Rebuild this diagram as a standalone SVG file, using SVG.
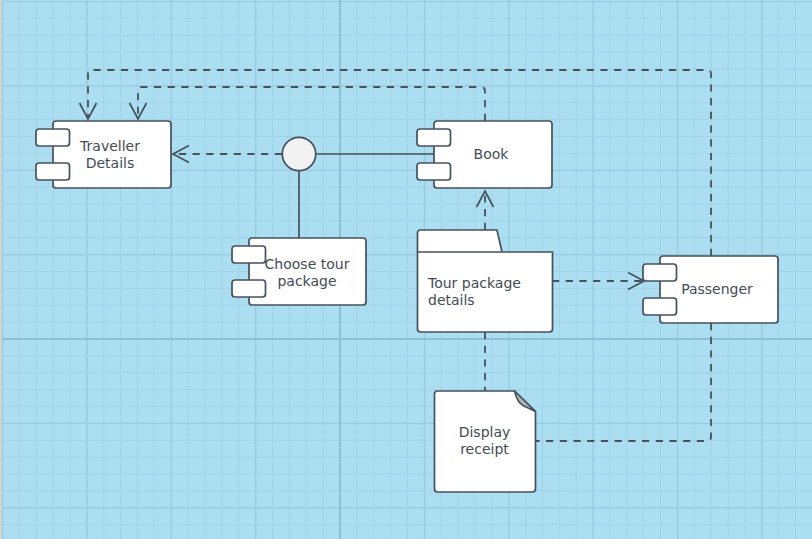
<svg xmlns="http://www.w3.org/2000/svg" width="812" height="539" viewBox="0 0 812 539">
<style>
.box{fill:#ffffff;stroke:#45515c;stroke-width:1.7}
.port{fill:#ffffff;stroke:#45515c;stroke-width:1.7}
.lbl{font-family:"DejaVu Sans",sans-serif;font-size:14px;fill:#3f4b56}
.c{text-anchor:middle}
.dash{fill:none;stroke:#45515c;stroke-width:1.8;stroke-dasharray:7.2 6.5}
.solid{fill:none;stroke:#45515c;stroke-width:1.7}
</style>
<defs>
<pattern id="minor" x="2" y="1" width="16.875" height="16.875" patternUnits="userSpaceOnUse">
<rect x="0" y="0" width="1" height="16.875" fill="#a0d3e9"/>
<rect x="0" y="0" width="16.875" height="1" fill="#a0d3e9"/>
</pattern>
<pattern id="medium" x="2" y="1" width="84.375" height="84.375" patternUnits="userSpaceOnUse">
<rect x="0" y="0" width="1.2" height="84.375" fill="#98cadf"/>
<rect x="0" y="0" width="84.375" height="1.2" fill="#98cadf"/>
</pattern>
<marker id="open" viewBox="0 0 20 20" refX="17" refY="10" markerWidth="20" markerHeight="20" markerUnits="userSpaceOnUse" orient="auto">
<path d="M1,1.5 L17,10 L1,18.5" fill="none" stroke="#45515c" stroke-width="1.7" stroke-dasharray="none"/>
</marker>
</defs>
<g id="background">
<rect x="0" y="0" width="812" height="539" fill="#acdef2"/>
<rect x="0" y="0" width="812" height="539" fill="url(#minor)"/>
<rect x="0" y="0" width="812" height="539" fill="url(#medium)"/>
<rect x="339" y="0" width="2" height="539" fill="#8fc0d6"/>
<rect x="0" y="338" width="812" height="2" fill="#8fc0d6"/>
<rect x="0" y="0" width="2" height="539" fill="#d3d3d3"/>
</g>
<g id="connectors">
<path class="dash" d="M282,154 L173,154" marker-end="url(#open)"/>
<path class="solid" d="M316,154 L434,154"/>
<path class="solid" d="M299,171 L299,238"/>
<path class="dash" d="M485,121 V91 Q485,87 481,87 H142 Q138,87 138,91 V119" marker-end="url(#open)"/>
<path class="dash" d="M711,256 V74 Q711,70 707,70 H92 Q88,70 88,74 V119" marker-end="url(#open)"/>
<path class="dash" d="M485,230 V191" marker-end="url(#open)"/>
<path class="dash" d="M552,281 H644" marker-end="url(#open)"/>
<path class="dash" d="M711,323 V437 Q711,441 707,441 H536"/>
<path class="dash" d="M485,332 V391"/>
</g>
<g id="interface">
<circle cx="299" cy="154" r="16.7" fill="#f2f2f2" stroke="#45515c" stroke-width="1.7"/>
</g>
<g id="traveller-details">
<rect class="box" x="53" y="121" width="118" height="67" rx="3"/>
<rect class="port" x="36" y="129" width="33.5" height="17" rx="3"/>
<rect class="port" x="36" y="163" width="33.5" height="17" rx="3"/>
<text class="lbl c" x="110" y="150.5">Traveller</text>
<text class="lbl c" x="110" y="167.5">Details</text>
</g>
<g id="choose-tour-package">
<rect class="box" x="249" y="238" width="117" height="67" rx="3"/>
<rect class="port" x="232" y="246" width="33.5" height="17" rx="3"/>
<rect class="port" x="232" y="280" width="33.5" height="17" rx="3"/>
<text class="lbl c" x="307" y="268.5">Choose tour</text>
<text class="lbl c" x="307" y="285.5">package</text>
</g>
<g id="book">
<rect class="box" x="434" y="121" width="118" height="67" rx="3"/>
<rect class="port" x="417" y="129" width="33.5" height="17" rx="3"/>
<rect class="port" x="417" y="163" width="33.5" height="17" rx="3"/>
<text class="lbl c" x="491" y="159">Book</text>
</g>
<g id="tour-package-details">
<path class="box" d="M417.5,252 V233 Q417.5,230 420.5,230 H497 L502,252"/>
<path class="box" d="M417.5,252 H552.5 V329 Q552.5,332 549.5,332 H420.5 Q417.5,332 417.5,329 Z"/>
<text class="lbl" x="428" y="288">Tour package</text>
<text class="lbl" x="428" y="305">details</text>
</g>
<g id="passenger">
<rect class="box" x="660" y="256" width="118" height="67" rx="3"/>
<rect class="port" x="643" y="264" width="33.5" height="17" rx="3"/>
<rect class="port" x="643" y="298" width="33.5" height="17" rx="3"/>
<text class="lbl c" x="717" y="293.5">Passenger</text>
</g>
<g id="display-receipt">
<path class="box" d="M437.5,391 H514.5 L535.5,411.5 V489 Q535.5,492 532.5,492 H437.5 Q434.5,492 434.5,489 V394 Q434.5,391 437.5,391 Z"/>
<path d="M514.5,391 L535.5,411.5 L523,405.5 Q517,402 514.5,391 Z" fill="#b4b4b4" stroke="#45515c" stroke-width="1.6" stroke-linejoin="round"/>
<text class="lbl c" x="484.5" y="437">Display</text>
<text class="lbl c" x="484.5" y="453.5">receipt</text>
</g>
</svg>
